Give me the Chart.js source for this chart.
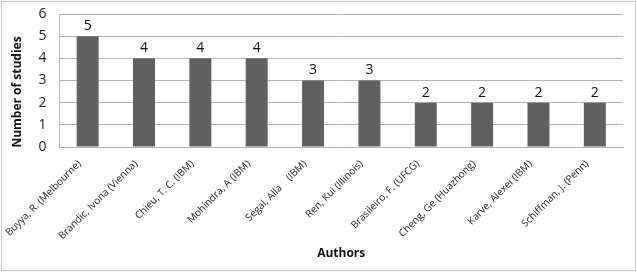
<!DOCTYPE html>
<html>
<head>
<meta charset="utf-8">
<script src="https://cdn.jsdelivr.net/npm/chart.js@4/dist/chart.umd.min.js"></script>
<style>
  html, body { margin: 0; padding: 0; background: #fff; }
  #wrap { position: absolute; left: 1px; top: 1px; width: 633px; height: 268px; border: 1px solid #c8c8c8; }
  canvas { display: block; }
</style>
</head>
<body>
<div id="wrap"><canvas id="studiesChart" width="633" height="268"></canvas></div>
<script>
// data
const authors = [
  'Buyya, R. (Melbourne)',
  'Brandic, Ivona (Vienna)',
  'Chieu, T. C. (IBM)',
  'Mohindra, A (IBM)',
  'Segal, Alla    (IBM)',
  'Ren, Kui (Illinois)',
  'Brasileiro, F. (UFCG)',
  'Cheng, Ge (Huazhong)',
  'Karve, Alexei (IBM)',
  'Schiffman, J. (Penn)'
];
const studies = [5, 4, 4, 4, 3, 3, 2, 2, 2, 2];
const yTicks = [0, 1, 2, 3, 4, 5, 6];
const yTitle = 'Number of studies';

// numbers above the bars + y title (sits a bit below the middle, like excel)
const valueLabels = {
  id: 'valueLabels',
  afterDatasetsDraw(chart) {
    const ctx = chart.ctx;
    const meta = chart.getDatasetMeta(0);
    ctx.save();
    ctx.font = '14px "Open Sans", sans-serif';
    ctx.fillStyle = '#111';
    ctx.textAlign = 'center';
    ctx.textBaseline = 'bottom';
    meta.data.forEach((bar, i) => {
      ctx.fillText(String(studies[i]), bar.x, bar.y - 3);
    });
    ctx.translate(16, chart.chartArea.top + 78);
    ctx.rotate(-Math.PI / 2);
    ctx.font = 'bold 12px "Open Sans", sans-serif';
    ctx.textBaseline = 'middle';
    ctx.fillText(yTitle, 0, 0);
    ctx.restore();
  }
};

const ctx = document.getElementById('studiesChart');
new Chart(ctx, {
  type: 'bar',
  data: {
    labels: authors,
    datasets: [{
      data: studies,
      backgroundColor: '#616161',
      borderWidth: 0,
      categoryPercentage: 1,
      barPercentage: 0.39
    }]
  },
  options: {
    responsive: false,
    animation: false,
    layout: { padding: { top: 0, right: 12, left: 0, bottom: 0 } },
    plugins: { legend: { display: false }, tooltip: { enabled: false } },
    scales: {
      x: {
        afterFit: (scale) => { scale.height = 123; },
        grid: { display: false, drawTicks: false },
        border: { display: true, color: '#b4b4b4' },
        ticks: {
          autoSkip: false,
          maxRotation: 45,
          minRotation: 45,
          padding: 11,
          labelOffset: -8,
          color: '#222',
          font: { family: 'Open Sans', size: 10 }
        },
        title: {
          display: true,
          text: 'Authors',
          color: '#111',
          padding: { top: 2, bottom: 9 },
          font: { family: 'Open Sans', size: 12, weight: 'bold' }
        }
      },
      y: {
        min: 0,
        max: 6,
        afterFit: (scale) => {
          scale.width = 52;
          scale.paddingTop = 12;
          scale.paddingBottom = 0;
        },
        afterBuildTicks: (axis) => { axis.ticks = yTicks.map(v => ({ value: v })); },
        grid: { color: '#b4b4b4', drawTicks: false },
        border: { display: true, color: '#b4b4b4' },
        ticks: {
          autoSkip: false,
          padding: 13,
          color: '#222',
          font: { family: 'Open Sans', size: 14 }
        }
      }
    }
  },
  plugins: [valueLabels]
});
</script>
</body>
</html>
